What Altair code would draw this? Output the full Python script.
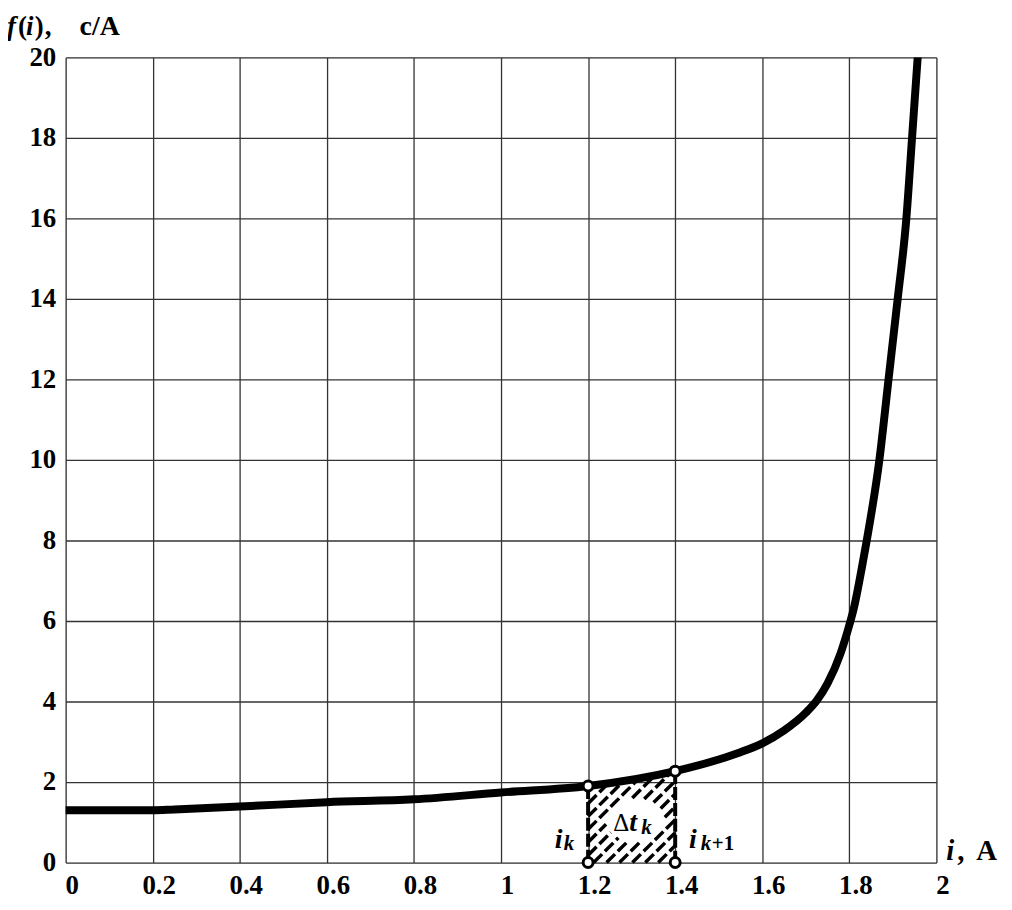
import altair as alt
import pandas as pd
import math

# curve f(i)
i_vals = [0, 0.2, 0.25, 0.4, 0.6, 0.8, 1.0, 1.2, 1.4, 1.5, 1.55, 1.6, 1.65, 1.7,
          1.725, 1.75, 1.78, 1.8, 1.81, 1.828, 1.84, 1.869, 1.890, 1.911, 1.931,
          1.944, 1.957]
f_vals = [1.30, 1.30, 1.32, 1.39, 1.50, 1.57, 1.74, 1.90, 2.27, 2.56, 2.74, 2.96,
          3.28, 3.72, 4.02, 4.45, 5.2, 5.9, 6.3, 7.28, 8.0, 10.0, 12.0, 14.0, 16.0,
          18.0, 20.0]

# integration step
ik, ik1 = 1.2, 1.4
fk, fk1 = 1.90, 2.27

x_ticks = [0, 0.2, 0.4, 0.6, 0.8, 1.0, 1.2, 1.4, 1.6, 1.8, 2.0]
y_ticks = [0, 2, 4, 6, 8, 10, 12, 14, 16, 18, 20]

W, H = 876, 810
FONT = "Liberation Serif"

curve = pd.DataFrame({"i": i_vals, "f": f_vals})

xs = alt.Scale(domain=[0, 2], nice=False, zero=False)
ys = alt.Scale(domain=[0, 20], nice=False, zero=False)

# --- hatch of the step area (45 deg in pixel space), leaving an oval clear for the label
sx = W / 2.0          # px per unit of i
sy = H / 20.0         # px per unit of f
def to_px(x, y):
    return x * sx, (20 - y) * sy
def to_data(px, py):
    return px / sx, 20 - py / sy

k = sx / sy
slope_top = (fk1 - fk) / (ik1 - ik)
ecx, ecy, erx, ery = 573.0, 767.0, 30.0, 22.0   # clear oval around the label (px)

raw = []
step = 13.0 / sx
c = ik - fk1 / k + step * 0.5
while c < ik1:
    x0 = max(ik, c)
    y0 = k * (x0 - c)
    xe = (k * c + fk - slope_top * ik) / (k - slope_top)
    xe = min(ik1, xe)
    if xe > x0 + 0.002:
        raw.append((x0, y0, xe, k * (xe - c)))
    c += step

segs = []
for x0, y0, x1, y1 in raw:
    p0x, p0y = to_px(x0, y0)
    p1x, p1y = to_px(x1, y1)
    dx, dy = p1x - p0x, p1y - p0y
    a = (dx / erx) ** 2 + (dy / ery) ** 2
    b = 2 * ((p0x - ecx) * dx / erx ** 2 + (p0y - ecy) * dy / ery ** 2)
    cc = ((p0x - ecx) / erx) ** 2 + ((p0y - ecy) / ery) ** 2 - 1
    disc = b * b - 4 * a * cc
    parts = [(0.0, 1.0)]
    if disc > 0:
        t1 = (-b - math.sqrt(disc)) / (2 * a)
        t2 = (-b + math.sqrt(disc)) / (2 * a)
        parts = []
        if t1 > 0:
            parts.append((0.0, min(1.0, t1)))
        if t2 < 1:
            parts.append((max(0.0, t2), 1.0))
    for ta, tb in parts:
        if tb - ta < 0.02:
            continue
        xa, ya = to_data(p0x + ta * dx, p0y + ta * dy)
        xb, yb = to_data(p0x + tb * dx, p0y + tb * dy)
        segs.append({"x": xa, "y": ya, "x2": xb, "y2": yb})
hatch_df = pd.DataFrame(segs)

steps_df = pd.DataFrame({"i": [ik, ik1], "f": [fk, fk1]})
pts_df = pd.DataFrame({"i": [ik, ik, ik1, ik1], "f": [0, fk, 0, fk1]})

base_x = alt.X("i:Q", scale=xs,
               axis=alt.Axis(values=x_ticks, format="~g", grid=True, ticks=False,
                             domain=False, title=None, labelFont=FONT,
                             labelFontWeight="bold", labelFontSize=27,
                             labelColor="black", labelPadding=31,
                             labelBaseline="alphabetic", labelOffset=6,
                             labelFlush=False, labelOverlap=False,
                             gridColor="#333333", gridWidth=1.3, tickSize=0))
base_y = alt.Y("f:Q", scale=ys,
               axis=alt.Axis(values=y_ticks, grid=True, ticks=False, domain=False,
                             title=None, labelFont=FONT, labelFontWeight="bold",
                             labelFontSize=27, labelColor="black", labelPadding=10,
                             labelFlush=False, labelOverlap=False,
                             gridColor="#333333", gridWidth=1.3, tickSize=0))

line = alt.Chart(curve).mark_line(color="black", strokeWidth=8, interpolate="monotone",
                                  clip=True, strokeCap="round").encode(x=base_x, y=base_y)

hatch = alt.Chart(hatch_df).mark_rule(color="black", strokeWidth=3.5,
                                      strokeDash=[12, 4]).encode(
    x=alt.X("x:Q", scale=xs), y=alt.Y("y:Q", scale=ys), x2="x2:Q", y2="y2:Q")

dashes = alt.Chart(steps_df).mark_rule(color="black", strokeWidth=4,
                                       strokeDash=[13, 3]).encode(
    x=alt.X("i:Q", scale=xs), y=alt.Y("f:Q", scale=ys), y2=alt.datum(0))

pts = alt.Chart(pts_df).mark_point(shape="circle", filled=True, fill="white",
                                   stroke="black", strokeWidth=3, size=100,
                                   opacity=1).encode(
    x=alt.X("i:Q", scale=xs), y=alt.Y("f:Q", scale=ys))

# text pieces: (text, x px, baseline y px, size, italic, bold)
pieces = [
    ("f", -59, -23, 27, True, True), ("(", -48, -23, 27, False, True),
    ("i", -40, -23, 27, True, True), (")", -31, -23, 27, False, True),
    (",", -21, -23, 27, False, True), ("c/A", 14, -23, 28, False, True),
    ("i", 886, 807, 29, True, True), (",", 897, 807, 29, False, True),
    ("A", 916, 807, 29, False, True),
    ("i", 492, 795, 28, True, True), ("k", 501, 797, 21, True, True),
    ("Δ", 551, 778, 25, False, False), ("t", 567, 778, 28, True, True),
    ("k", 579, 781, 21, True, True),
    ("i", 627, 795, 28, True, True), ("k", 639, 797, 21, True, True),
    ("+1", 650, 797, 21, False, True),
]
texts = []
for t, px, py, sz, it, bd in pieces:
    texts.append(alt.Chart(pd.DataFrame({"a": [0]})).mark_text(
        text=t, font=FONT, fontWeight="bold" if bd else "normal",
        fontStyle="italic" if it else "normal",
        fontSize=sz, align="left", baseline="alphabetic", color="black").encode(
        x=alt.value(px), y=alt.value(py)))

chart = alt.layer(line, hatch, dashes, pts, *texts).properties(
    width=W, height=H,
    padding={"left": 58, "top": 47, "right": 68, "bottom": 37},
    autosize=alt.AutoSizeParams(type="none"),
).configure_view(stroke="black", strokeWidth=2.5).configure(background="white")

chart.save("out.html", embed_options={"renderer": "svg", "actions": False})
